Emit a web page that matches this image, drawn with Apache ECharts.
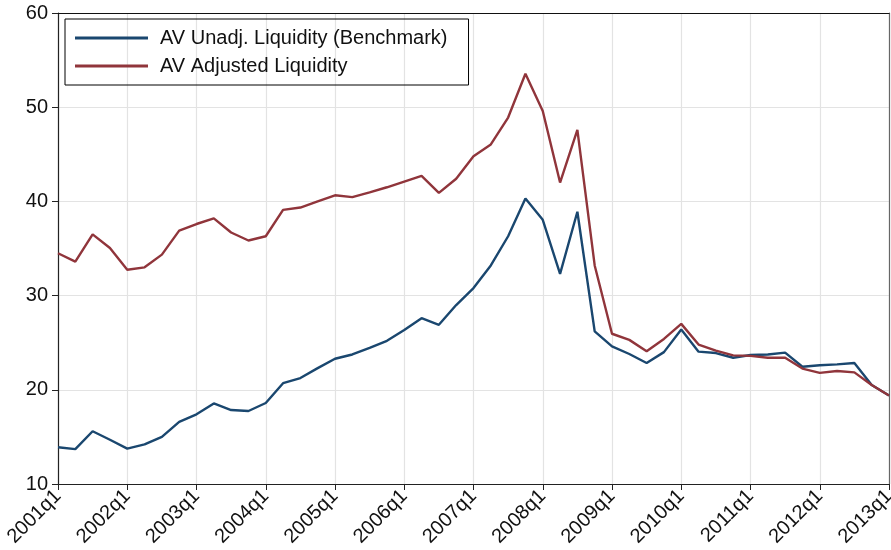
<!DOCTYPE html>
<html>
<head>
<meta charset="utf-8">
<script src="https://cdn.jsdelivr.net/npm/echarts@6/dist/echarts.min.js"></script>
<style>
  html, body { margin: 0; padding: 0; background: #fff; }
  #main { width: 891px; height: 550px; }
</style>
</head>
<body>
<div id="main"></div>
<script>
// quarters 2001q1 .. 2013q1
var quarters = [];
for (var yr = 2001; yr <= 2013; yr++) {
    for (var q = 1; q <= 4; q++) {
        if (yr === 2013 && q > 1) break;
        quarters.push(yr + 'q' + q);
    }
}

var unadjusted = [
    13.9, 13.7, 15.6, 14.7, 13.75, 14.2, 15.0, 16.6,
    17.4, 18.55, 17.85, 17.75, 18.6, 20.7, 21.25, 22.3,
    23.3, 23.75, 24.45, 25.2, 26.35, 27.6, 26.9, 29.0,
    30.8, 33.2, 36.3, 40.3, 38.05, 32.3, 38.9, 26.2,
    24.6, 23.8, 22.85, 24.0, 26.4, 24.05, 23.9, 23.4,
    23.7, 23.75, 23.95, 22.45, 22.6, 22.7, 22.85, 20.5,
    19.4
];

var adjusted = [
    34.5, 33.6, 36.5, 35.05, 32.75, 33.0, 34.35, 36.9,
    37.6, 38.2, 36.7, 35.85, 36.3, 39.1, 39.35, 40.0,
    40.65, 40.45, 40.95, 41.5, 42.1, 42.7, 40.9, 42.4,
    44.8, 46.05, 48.9, 53.55, 49.6, 42.0, 47.6, 33.2,
    25.95, 25.3, 24.1, 25.4, 27.0, 24.8, 24.15, 23.65,
    23.6, 23.4, 23.4, 22.25, 21.8, 22.0, 21.85, 20.5,
    19.4
];

var chart = echarts.init(document.getElementById('main'));

var font = 'Liberation Sans, Arial, sans-serif';

var option = {
    animation: false,
    textStyle: { fontFamily: font },
    grid: { left: 58, right: 2, top: 13, bottom: 66, outerBoundsMode: 'none', containLabel: false },
    legend: {
        left: 65, top: 19,
        orient: 'vertical',
        borderColor: '#000', borderWidth: 1, borderRadius: 0,
        padding: [9, 21, 9, 10],
        itemWidth: 73, itemHeight: 3, itemGap: 8,
        icon: 'rect',
        textStyle: { fontSize: 20, color: '#111', fontFamily: font, padding: [0, 0, 0, 7] },
        data: ['AV Unadj. Liquidity (Benchmark)', 'AV Adjusted Liquidity']
    },
    xAxis: [{
        type: 'category',
        data: quarters,
        boundaryGap: false,
        axisLine: { lineStyle: { color: '#222', width: 1.2 } },
        axisTick: { interval: 3, length: 6, lineStyle: { color: '#222' } },
        axisLabel: { interval: 3, rotate: 45, fontSize: 20, color: '#111', margin: 9, fontFamily: font },
        splitLine: { show: true, interval: 3, lineStyle: { color: '#e3e3e3', width: 1.2 } }
    }, {
        type: 'category',
        data: quarters,
        position: 'top',
        boundaryGap: false,
        axisLine: { lineStyle: { color: '#111', width: 1.2 } },
        axisTick: { show: false },
        axisLabel: { show: false },
        splitLine: { show: false }
    }],
    yAxis: [{
        type: 'value',
        min: 10, max: 60, interval: 10,
        axisLine: { show: true, lineStyle: { color: '#222', width: 1.2 } },
        axisTick: { show: true, length: 6, lineStyle: { color: '#222' } },
        axisLabel: { fontSize: 20, color: '#111', margin: 10, fontFamily: font },
        splitLine: { lineStyle: { color: '#e3e3e3', width: 1.2 } }
    }, {
        type: 'value',
        position: 'right',
        min: 10, max: 60, interval: 10,
        axisLine: { show: true, lineStyle: { color: '#666', width: 1.2 } },
        axisTick: { show: false },
        axisLabel: { show: false },
        splitLine: { show: false }
    }],
    series: [{
        name: 'AV Unadj. Liquidity (Benchmark)',
        type: 'line',
        data: unadjusted,
        symbol: 'none',
        color: '#1a476f',
        lineStyle: { width: 2.4, color: '#1a476f' }
    }, {
        name: 'AV Adjusted Liquidity',
        type: 'line',
        data: adjusted,
        symbol: 'none',
        color: '#90353b',
        lineStyle: { width: 2.4, color: '#90353b' }
    }]
};

chart.setOption(option);
</script>
</body>
</html>
